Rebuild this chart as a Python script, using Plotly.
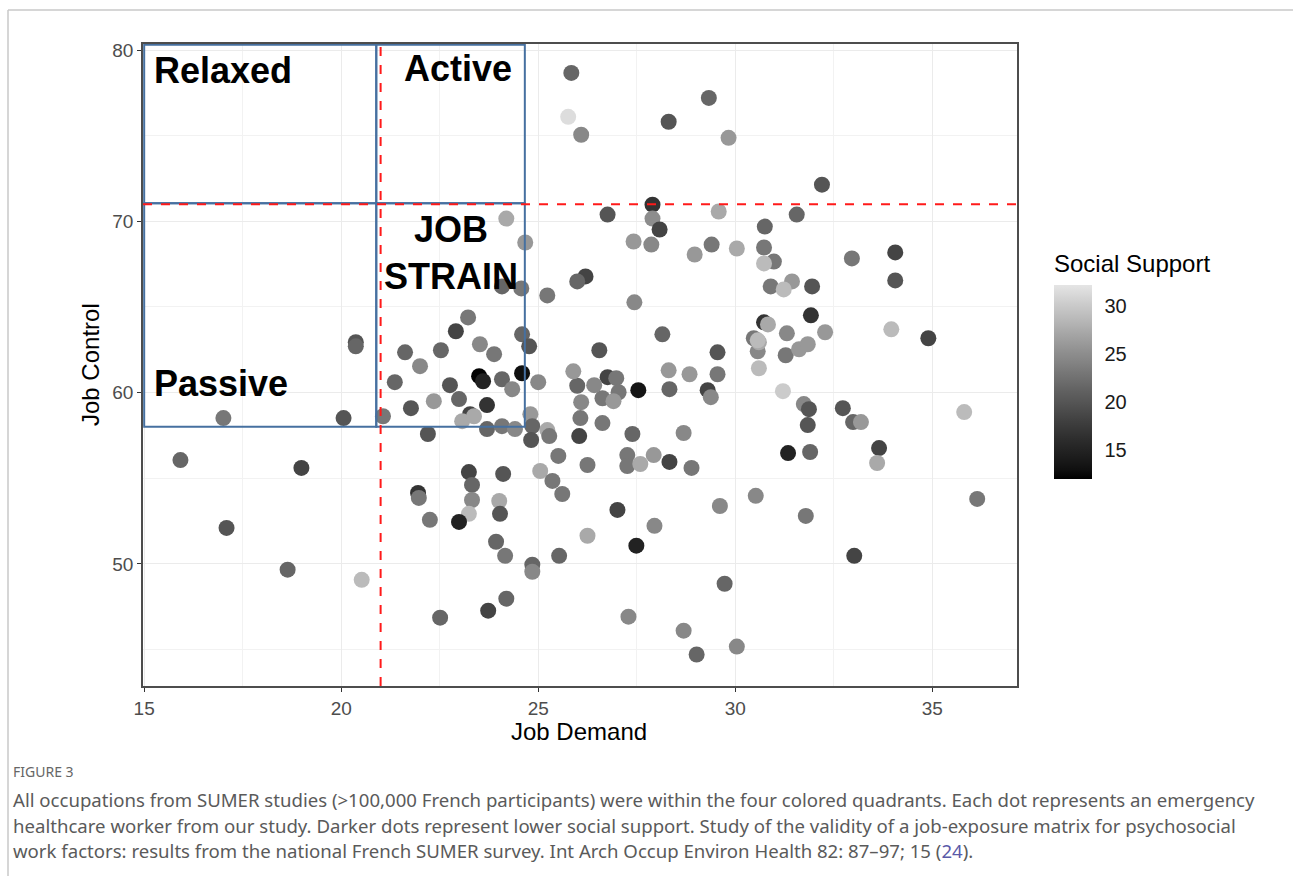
import plotly.graph_objects as go

# ---------------- data ----------------
job_demand = [
    25.84, 25.76, 26.09, 28.31, 29.33, 29.83, 32.20, 27.90, 26.76, 27.90,
    28.08, 29.58, 31.56, 30.75, 27.42, 27.87, 28.97, 29.40, 30.04, 30.73,
    30.98, 30.73, 32.96, 34.06, 34.06, 26.20, 25.99, 25.23, 27.44, 30.90,
    31.44, 31.23, 31.95, 24.19, 24.67, 24.08, 24.57, 23.22, 22.91, 24.59,
    24.77, 22.53, 23.52, 23.88, 21.62, 22.00, 23.50, 23.60, 24.59, 24.08,
    24.34, 25.00, 21.36, 22.76, 22.99, 23.70, 22.35, 21.77, 21.06, 23.27,
    23.07, 23.37, 23.70, 24.08, 24.41, 24.80, 24.85, 25.23, 25.28, 24.82,
    22.20, 26.07, 26.04, 26.63, 27.39, 25.51, 26.25, 27.26, 27.26, 27.59,
    27.93, 28.33, 28.89, 23.24, 23.32, 23.32, 23.24, 22.99, 21.95, 21.97,
    22.25, 24.11, 24.01, 24.03, 23.93, 24.16, 24.85, 24.85, 25.53, 25.05,
    25.36, 25.61, 27.01, 26.25, 27.49, 27.95, 24.19, 23.73, 22.51, 27.29,
    28.69, 29.02, 30.04, 29.73, 29.61, 30.52, 31.79, 33.02, 36.14, 26.55,
    28.15, 29.55, 28.31, 28.84, 29.55, 26.76, 26.98, 26.42, 25.99, 26.63,
    27.04, 27.54, 28.33, 29.30, 29.38, 26.91, 26.09, 28.69, 25.89, 30.57,
    30.60, 30.60, 31.28, 31.62, 31.84, 31.21, 31.74, 31.87, 31.84, 32.73,
    32.99, 33.19, 35.81, 31.34, 31.90, 33.65, 33.60, 30.73, 30.83, 31.31,
    31.92, 32.28, 30.47, 30.57, 33.96, 34.90, 17.01, 20.06, 20.37, 20.37,
    15.92, 18.99, 17.09, 18.64, 20.52,
]
job_control = [
    78.66, 76.10, 75.05, 75.81, 77.20, 74.87, 72.14, 70.97, 70.39, 70.16,
    69.52, 70.57, 70.39, 69.69, 68.82, 68.64, 68.06, 68.64, 68.41, 68.47,
    67.65, 67.54, 67.83, 68.18, 66.55, 66.78, 66.49, 65.67, 65.27, 66.20,
    66.49, 66.02, 66.20, 70.16, 68.76, 66.20, 66.08, 64.39, 63.58, 63.40,
    62.70, 62.47, 62.82, 62.24, 62.35, 61.54, 60.96, 60.66, 61.13, 60.78,
    60.20, 60.61, 60.61, 60.43, 59.62, 59.27, 59.50, 59.09, 58.62, 58.74,
    58.33, 58.62, 57.87, 58.04, 57.87, 58.74, 58.04, 57.81, 57.46, 57.23,
    57.58, 58.51, 57.46, 58.22, 57.58, 56.30, 55.77, 56.35, 55.71, 55.83,
    56.35, 55.95, 55.60, 55.36, 54.61, 53.73, 52.92, 52.45, 54.14, 53.85,
    52.57, 55.25, 53.67, 52.92, 51.29, 50.47, 49.95, 49.54, 50.47, 55.42,
    54.84, 54.08, 53.15, 51.64, 51.06, 52.22, 47.97, 47.27, 46.86, 46.92,
    46.10, 44.71, 45.17, 48.84, 53.38, 53.97, 52.80, 50.47, 53.79, 62.47,
    63.40, 62.35, 61.30, 61.07, 61.07, 60.90, 60.84, 60.43, 60.40, 59.67,
    60.02, 60.14, 60.20, 60.14, 59.73, 59.50, 59.44, 57.64, 61.24, 62.41,
    62.94, 61.42, 62.18, 62.53, 62.82, 60.08, 59.33, 59.03, 58.10, 59.09,
    58.28, 58.28, 58.86, 56.47, 56.53, 56.76, 55.89, 64.10, 63.98, 63.46,
    64.51, 63.52, 63.17, 63.05, 63.69, 63.17, 58.51, 58.51, 62.94, 62.70,
    56.06, 55.60, 52.10, 49.66, 49.07,
]
social_support = [
    21.6, 31.6, 24.6, 20.0, 21.6, 26.0, 20.0, 16.7, 20.0, 25.0,
    18.4, 27.4, 21.6, 21.6, 26.0, 24.6, 26.0, 23.1, 27.4, 23.1,
    23.1, 28.8, 23.1, 18.4, 20.0, 18.4, 21.6, 23.1, 24.6, 23.1,
    26.0, 28.8, 20.0, 27.4, 26.0, 21.6, 23.1, 23.1, 18.4, 21.6,
    20.0, 21.6, 24.6, 23.1, 21.6, 24.6, 12.2, 14.9, 13.0, 21.6,
    24.6, 24.6, 21.6, 20.0, 21.6, 16.7, 26.0, 20.0, 23.1, 18.4,
    27.4, 27.4, 21.6, 23.1, 24.6, 26.0, 21.6, 27.4, 23.1, 20.0,
    20.0, 23.1, 18.4, 23.1, 21.6, 23.1, 23.1, 23.1, 23.1, 27.4,
    26.0, 18.4, 23.1, 18.4, 21.6, 24.6, 28.8, 14.9, 16.7, 23.1,
    23.1, 20.0, 27.4, 20.0, 21.6, 23.1, 21.6, 24.6, 21.6, 27.4,
    23.1, 23.1, 18.4, 27.4, 14.9, 24.6, 21.6, 18.4, 21.6, 24.6,
    24.6, 21.6, 24.6, 21.6, 24.6, 24.6, 23.1, 18.4, 23.1, 20.0,
    21.6, 20.0, 26.0, 26.0, 23.1, 18.4, 23.1, 24.6, 21.6, 23.1,
    23.1, 13.5, 21.6, 18.4, 24.6, 26.0, 24.6, 24.6, 26.0, 24.6,
    27.4, 28.8, 23.1, 26.0, 26.0, 30.2, 24.6, 20.0, 20.0, 20.0,
    21.6, 26.0, 28.8, 14.9, 21.6, 18.4, 27.4, 16.7, 27.4, 24.6,
    16.7, 26.0, 23.1, 28.8, 28.8, 18.4, 23.1, 20.0, 20.0, 21.6,
    21.6, 18.4, 20.0, 21.6, 28.8,
]

x_ticks = [15, 20, 25, 30, 35]
y_ticks = [50, 60, 70, 80]
cbar_ticks = [15, 20, 25, 30]
demand_cut = 21
control_cut = 71

# quadrant boxes (from the reference overlay)
box_x = [15.0, 20.89, 24.66]
box_y = [58.0, 71.05, 80.3]

quadrant_labels = ["Relaxed", "Active", "JOB<br>STRAIN", "Passive"]

# ---------------- geometry helpers ----------------
W, H = 1293, 876
L_PX, R_PX, T_PX, B_PX = 143, 1017, 44, 686


def xp(px):
    return (px - L_PX) / (R_PX - L_PX)


def yp(py):
    return (B_PX - py) / (B_PX - T_PX)


def lab_grey(L):
    fy = (L + 16) / 116
    Y = fy ** 3 if fy ** 3 > 0.008856 else L / 903.3
    c = 12.92 * Y if Y <= 0.0031308 else 1.055 * Y ** (1 / 2.4) - 0.055
    g = max(0, min(255, round(255 * c)))
    return f"rgb({g},{g},{g})"


L_HIGH = 90.95
colorscale = [[i / 20, lab_grey(L_HIGH * i / 20)] for i in range(21)]

fig = go.Figure()
fig.add_trace(go.Scatter(
    x=job_demand, y=job_control, mode="markers",
    marker=dict(
        size=16, color=social_support, colorscale=colorscale,
        cmin=12.0, cmax=32.2, line=dict(width=0),
        colorbar=dict(
            x=xp(1054), xanchor="left", xpad=0, y=yp(382), yanchor="middle", ypad=0,
            len=194, lenmode="pixels", thickness=38, thicknessmode="pixels",
            outlinewidth=0, tickvals=cbar_ticks, ticks="outside",
            tickcolor="white", ticklen=9, tickwidth=1,
            tickfont=dict(family="Liberation Sans, Arial", size=20, color="#1a1a1a"),
            ticklabelposition="outside",
        ),
    ),
    showlegend=False, hoverinfo="x+y",
))

shapes = []
# quadrant boxes
blue = "#4670a0"
for i in range(2):
    for j in range(2):
        shapes.append(dict(type="rect", xref="x", yref="y",
                           x0=box_x[i], x1=box_x[i + 1], y0=box_y[j], y1=box_y[j + 1],
                           line=dict(color=blue, width=2), layer="above"))
# dashed cut lines
shapes.append(dict(type="line", xref="x", yref="paper", x0=demand_cut, x1=demand_cut,
                   y0=0, y1=1, line=dict(color="#ff1a1a", width=2, dash="dash"), layer="above"))
shapes.append(dict(type="line", xref="paper", yref="y", x0=0, x1=1, y0=control_cut,
                   y1=control_cut, line=dict(color="#ff1a1a", width=2, dash="dash"), layer="above"))
# white tick marks on the colour bar (inside, both edges)
for v in cbar_ticks:
    ty = yp(479 - (v - 12.0) / (32.2 - 12.0) * 194)
    for xa, xb in ((1054, 1061), (1085, 1092)):
        shapes.append(dict(type="line", xref="paper", yref="paper", x0=xp(xa), x1=xp(xb),
                           y0=ty, y1=ty, line=dict(color="rgba(255,255,255,0.75)", width=1),
                           layer="above"))
# outer page frame
shapes.append(dict(type="line", xref="paper", yref="paper", x0=xp(8), x1=xp(1300),
                   y0=yp(10), y1=yp(10), line=dict(color="#c8c8c8", width=1.5)))
shapes.append(dict(type="line", xref="paper", yref="paper", x0=xp(8), x1=xp(8),
                   y0=yp(10), y1=yp(880), line=dict(color="#c8c8c8", width=1.5)))

lab_font = dict(family="Liberation Sans, Arial", size=36, color="black")
annotations = [
    dict(text="<b>%s</b>" % quadrant_labels[0], x=xp(152), y=yp(71), xanchor="left", yanchor="middle"),
    dict(text="<b>%s</b>" % quadrant_labels[1], x=xp(402), y=yp(69), xanchor="left", yanchor="middle"),
    dict(text="<b>%s</b>" % quadrant_labels[2], x=xp(451), y=yp(253), xanchor="center", yanchor="middle"),
    dict(text="<b>%s</b>" % quadrant_labels[3], x=xp(152), y=yp(383), xanchor="left", yanchor="middle"),
]
for a in annotations:
    a.update(xref="paper", yref="paper", showarrow=False, font=lab_font)
annotations[2]["align"] = "center"

title_font = dict(family="Liberation Sans, Arial", size=24, color="black")
annotations += [
    dict(text="Job Demand", x=xp(579), y=yp(731), xanchor="center", yanchor="middle", font=title_font),
    dict(text="Job Control", x=xp(90), y=yp(365), xanchor="center", yanchor="middle",
         textangle=-90, font=title_font),
    dict(text="Social Support", x=xp(1052), y=yp(263), xanchor="left", yanchor="middle", font=title_font),
    dict(text="FIGURE 3", x=xp(11), y=yp(772), xanchor="left", yanchor="middle",
         font=dict(family="Noto Sans", size=14, color="#666666")),
]
caption_lines = [
    "All occupations from SUMER studies (>100,000 French participants) were within the four colored quadrants. Each dot represents an emergency",
    "healthcare worker from our study. Darker dots represent lower social support. Study of the validity of a job-exposure matrix for psychosocial",
    "work factors: results from the national French SUMER survey. Int Arch Occup Environ Health 82: 87\u201397; 15 (<span style='color:#5a5aa8'>24</span>).",
]
for k, line in enumerate(caption_lines):
    annotations.append(dict(text=line, x=xp(11), y=yp(800 + 25 * k), xanchor="left",
                            yanchor="middle", font=dict(family="Noto Sans", size=18.6, color="#5a5a5a")))
for a in annotations[4:]:
    a.update(xref="paper", yref="paper", showarrow=False)

axis_common = dict(
    showline=True, mirror=True, linecolor="#4d4d4d", linewidth=1.5,
    ticks="outside", ticklen=4, tickcolor="#333333", tickwidth=1,
    showgrid=True, gridcolor="#ebebeb", gridwidth=1.3, zeroline=False,
    tickfont=dict(family="Liberation Sans, Arial", size=19, color="#4d4d4d"),
)
fig.update_layout(
    width=W, height=H, autosize=False,
    margin=dict(l=L_PX, r=W - R_PX, t=T_PX, b=H - B_PX),
    paper_bgcolor="white", plot_bgcolor="white",
    xaxis=dict(range=[14.97, 37.15], tickvals=x_ticks,
               minor=dict(dtick=2.5, tick0=17.5, showgrid=True, gridcolor="#f2f2f2", gridwidth=0.7, ticks=""),
               **axis_common),
    yaxis=dict(range=[42.87, 80.35], tickvals=y_ticks,
               minor=dict(dtick=5, tick0=45, showgrid=True, gridcolor="#f2f2f2", gridwidth=0.7, ticks=""),
               **axis_common),
    shapes=shapes, annotations=annotations,
)
fig.write_html("out.html")
